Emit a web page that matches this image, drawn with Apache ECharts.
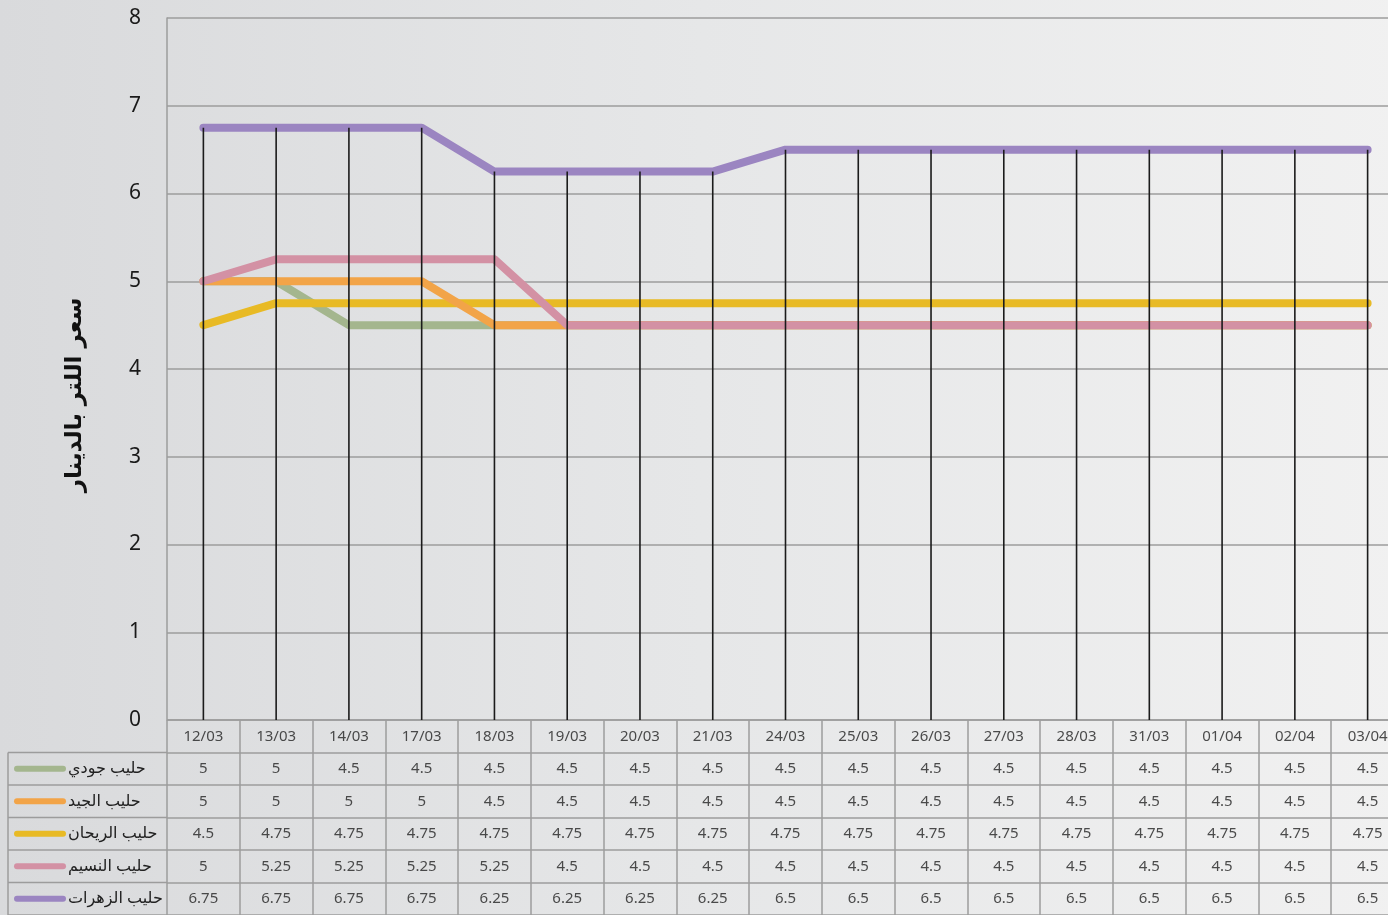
<!DOCTYPE html>
<html>
<head>
<meta charset="utf-8">
<script src="https://cdn.jsdelivr.net/npm/echarts@6/dist/echarts.min.js"></script>
<style>
  html, body { margin: 0; padding: 0; overflow: hidden; width: 1388px; height: 915px; }
  #chart {
    /* plot area runs a little past the right edge of the window, as in the original */
    width: 1404px; height: 915px;
    background: linear-gradient(to right, #d9dadc 0%, #e6e7e8 50%, #f1f1f1 100%);
  }
</style>
</head>
<body>
<div id="chart"></div>
<script>
var dates = ['12/03', '13/03', '14/03', '17/03', '18/03', '19/03', '20/03', '21/03', '24/03',
  '25/03', '26/03', '27/03', '28/03', '31/03', '01/04', '02/04', '03/04'];
var names = ['حليب جودي', 'حليب الجيد', 'حليب الريحان', 'حليب النسيم', 'حليب الزهرات'];
var jodi = [5, 5, 4.5, 4.5, 4.5, 4.5, 4.5, 4.5, 4.5, 4.5, 4.5, 4.5, 4.5, 4.5, 4.5, 4.5, 4.5];
var jayed = [5, 5, 5, 5, 4.5, 4.5, 4.5, 4.5, 4.5, 4.5, 4.5, 4.5, 4.5, 4.5, 4.5, 4.5, 4.5];
var rayhan = [4.5, 4.75, 4.75, 4.75, 4.75, 4.75, 4.75, 4.75, 4.75, 4.75, 4.75, 4.75, 4.75, 4.75, 4.75, 4.75, 4.75];
var naseem = [5, 5.25, 5.25, 5.25, 5.25, 4.5, 4.5, 4.5, 4.5, 4.5, 4.5, 4.5, 4.5, 4.5, 4.5, 4.5, 4.5];
var zahrat = [6.75, 6.75, 6.75, 6.75, 6.25, 6.25, 6.25, 6.25, 6.5, 6.5, 6.5, 6.5, 6.5, 6.5, 6.5, 6.5, 6.5];
var yTicks = [0, 1, 2, 3, 4, 5, 6, 7, 8];

var allData = [jodi, jayed, rayhan, naseem, zahrat];
var colors = ['#a4b68e', '#f2a448', '#e8ba25', '#d391a4', '#9b85c1'];
var zOrder = [2, 4, 3, 5, 6]; // yellow sits under orange, over green

var font = "'Noto Sans', 'DejaVu Sans', sans-serif";
var gridLine = '#9c9c9c';

var myChart = echarts.init(document.getElementById('chart'));

var series = [];
allData.forEach(function (vals, i) {
  series.push({
    name: names[i],
    type: 'line',
    xAxisIndex: 0,
    yAxisIndex: 0,
    data: vals,
    symbol: 'none',
    z: zOrder[i],
    lineStyle: { width: 8, color: colors[i], cap: 'round', join: 'round' },
    itemStyle: { color: colors[i] },
    silent: true
  });
});

// vertical drop lines from the top series down to zero
series.push({
  name: 'drop',
  type: 'bar',
  xAxisIndex: 0,
  yAxisIndex: 0,
  data: zahrat,
  barWidth: 1.6,
  z: 10,
  itemStyle: { color: '#1b1b1b' },
  silent: true
});

// table text: header row (dates) and one row per series
series.push({
  name: 'header',
  type: 'scatter',
  xAxisIndex: 1,
  yAxisIndex: 1,
  symbolSize: 0,
  silent: true,
  data: dates.map(function (d, j) { return [j, 0.5, d]; }),
  label: {
    show: true, position: 'inside', color: '#222', fontSize: 15, fontFamily: font,
    formatter: function (p) { return p.value[2]; }
  }
});
allData.forEach(function (vals, i) {
  series.push({
    name: 'row' + i,
    type: 'scatter',
    xAxisIndex: 1,
    yAxisIndex: 1,
    symbolSize: 0,
    silent: true,
    data: vals.map(function (v, j) { return [j, i + 1.5, v]; }),
    label: {
      show: true, position: 'inside', color: '#222', fontSize: 15, fontFamily: font,
      formatter: function (p) { return String(p.value[2]); }
    }
  });
});

var rowH = 195 / 6;
var graphics = [];
// left legend column borders
for (var r = 1; r <= 6; r++) {
  var yy = 720 + rowH * r;
  graphics.push({
    type: 'line', shape: { x1: 8, y1: yy, x2: 167, y2: yy },
    style: { stroke: gridLine, lineWidth: 1.5 }, silent: true
  });
}
graphics.push({
  type: 'line', shape: { x1: 8, y1: 720 + rowH, x2: 8, y2: 915 },
  style: { stroke: gridLine, lineWidth: 1.5 }, silent: true
});
// y axis title
graphics.push({
  type: 'text',
  x: 75, y: 395,
  rotation: Math.PI / 2,
  style: {
    text: 'سعر اللتر بالدينار',
    font: "bold 23px 'DejaVu Sans', sans-serif",
    fill: '#111',
    align: 'center',
    verticalAlign: 'middle'
  },
  silent: true
});

myChart.setOption({
  animation: false,
  legend: {
    data: names,
    orient: 'vertical',
    left: 14,
    top: 720 + rowH + rowH / 2 - 10,
    padding: 0,
    itemWidth: 52,
    itemHeight: 6,
    itemGap: rowH - 20,
    icon: 'path://M3 0H49A3 3 0 0 1 49 6H3A3 3 0 0 1 3 0Z',
    selectedMode: false,
    textStyle: { color: '#222', fontSize: 16, lineHeight: 20, fontFamily: font, padding: [0, 0, 0, -3] }
  },
  grid: [
    { left: 167, top: 18, right: 0, height: 702 },
    { left: 167, top: 720, right: 0, height: 195 }
  ],
  xAxis: [
    {
      gridIndex: 0, type: 'category', data: dates, boundaryGap: true,
      axisLine: { show: false }, axisTick: { show: false }, axisLabel: { show: false },
      splitLine: { show: false }
    },
    {
      gridIndex: 1, type: 'category', data: dates, boundaryGap: true,
      axisLine: { show: false }, axisTick: { show: false }, axisLabel: { show: false },
      splitLine: { show: true, interval: 0, lineStyle: { color: gridLine, width: 1.5 } }
    }
  ],
  yAxis: [
    {
      gridIndex: 0, type: 'value', min: yTicks[0], max: yTicks[yTicks.length - 1], interval: 1,
      axisLine: { show: true, lineStyle: { color: gridLine, width: 1.5 } },
      axisTick: { show: false },
      axisLabel: { color: '#1a1a1a', fontSize: 21, fontFamily: font, margin: 26, padding: [0, 0, 4, 0] },
      splitLine: { show: true, lineStyle: { color: gridLine, width: 1.5 } }
    },
    {
      gridIndex: 1, type: 'value', min: 0, max: 6, interval: 1, inverse: true,
      axisLine: { show: false }, axisTick: { show: false }, axisLabel: { show: false },
      splitLine: { show: true, lineStyle: { color: gridLine, width: 1.5 } }
    }
  ],
  graphic: graphics,
  series: series
});
</script>
</body>
</html>
